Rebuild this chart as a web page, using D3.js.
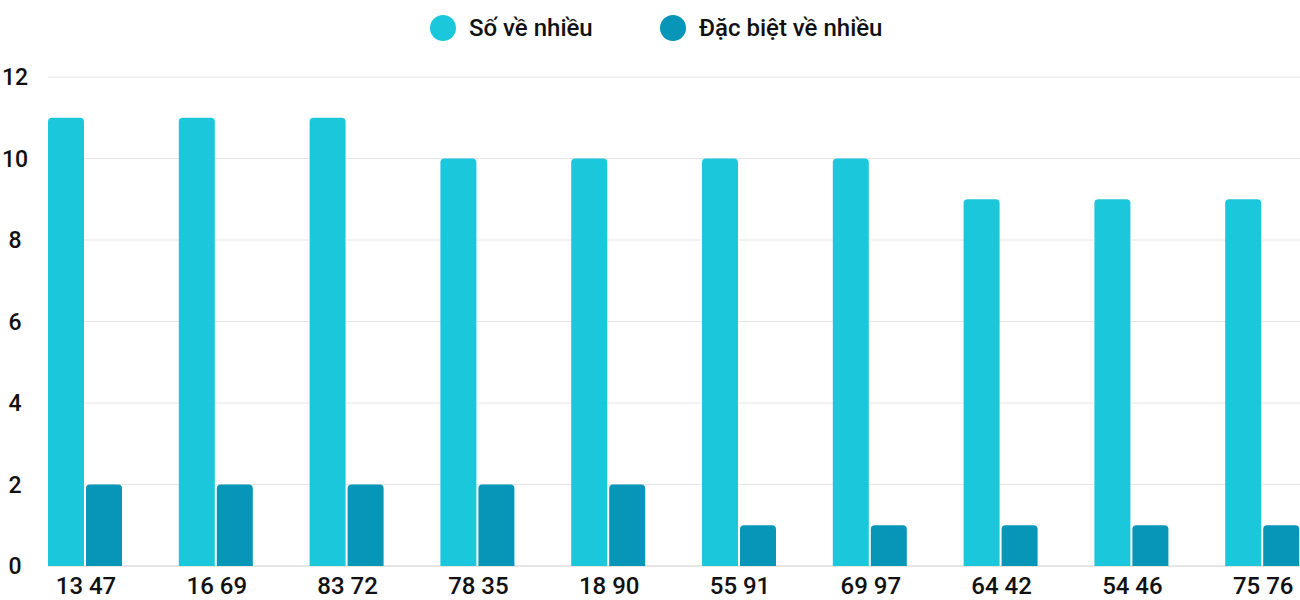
<!DOCTYPE html>
<html><head><meta charset="utf-8">
<script src="https://cdn.jsdelivr.net/npm/d3@7"></script>
<style>body{margin:0;background:#fff;font-family:Roboto,sans-serif}</style>
</head><body><svg id="c" width="1300" height="600"></svg>
<script>
const categories = ['13 47','16 69','83 72','78 35','18 90','55 91','69 97','64 42','54 46','75 76']
const soVeNhieu = [11,11,11,10,10,10,10,9,9,9]
const dacBiet = [2,2,2,2,2,1,1,1,1,1]
const yTicks = [0,2,4,6,8,10,12]
const seriesNames = ['Số về nhiều','Đặc biệt về nhiều']
const colors = ['#1bc8db','#0795b8']

const svg = d3.select('#c')
const x = d3.scaleBand().domain(categories).range([20.6, 1328.6])
const y = d3.scaleLinear().domain([0, 12]).range([566, 77])

// grid
svg.selectAll('line.grid').data(yTicks).enter().append('line')
  .attr('x1', 48).attr('x2', 1300)
  .attr('y1', d => y(d)).attr('y2', d => y(d))
  .attr('stroke', d => d === 0 ? '#ccc' : '#e6e6e6').attr('stroke-width', 1)

svg.selectAll('text.yt').data(yTicks).enter().append('text')
  .attr('x', 15).attr('y', d => y(d) + 8)
  .attr('text-anchor', 'middle').attr('font-size', 23).attr('font-weight', 500).attr('fill', '#111')
  .text(d => d)

function roundTop(x0, y0, w, h, r) {
  return `M${x0},${y0 + h}V${y0 + r}Q${x0},${y0} ${x0 + r},${y0}H${x0 + w - r}Q${x0 + w},${y0} ${x0 + w},${y0 + r}V${y0 + h}Z`
}
const bw = 36
const mid = c => x(c) + x.bandwidth() / 2
svg.selectAll('path.s1').data(categories).enter().append('path')
  .attr('fill', colors[0])
  .attr('d', (c, i) => roundTop(mid(c) - 38, y(soVeNhieu[i]), bw, y(0) - y(soVeNhieu[i]), 4))
svg.selectAll('path.s2').data(categories).enter().append('path')
  .attr('fill', colors[1])
  .attr('d', (c, i) => roundTop(mid(c), y(dacBiet[i]), bw, y(0) - y(dacBiet[i]), 4))

svg.selectAll('text.xt').data(categories).enter().append('text')
  .attr('x', d => mid(d)).attr('y', 594)
  .attr('text-anchor', 'middle').attr('font-size', 24).attr('font-weight', 500).attr('fill', '#111')
  .text(d => d)

// legend
const lx = [443, 673]
seriesNames.forEach((n, i) => {
  svg.append('circle').attr('cx', lx[i]).attr('cy', 28).attr('r', 13).attr('fill', colors[i])
  svg.append('text').attr('x', lx[i] + 26).attr('y', 36)
    .attr('font-size', 24).attr('font-weight', 500).attr('fill', '#111').text(n)
})
</script></body></html>
